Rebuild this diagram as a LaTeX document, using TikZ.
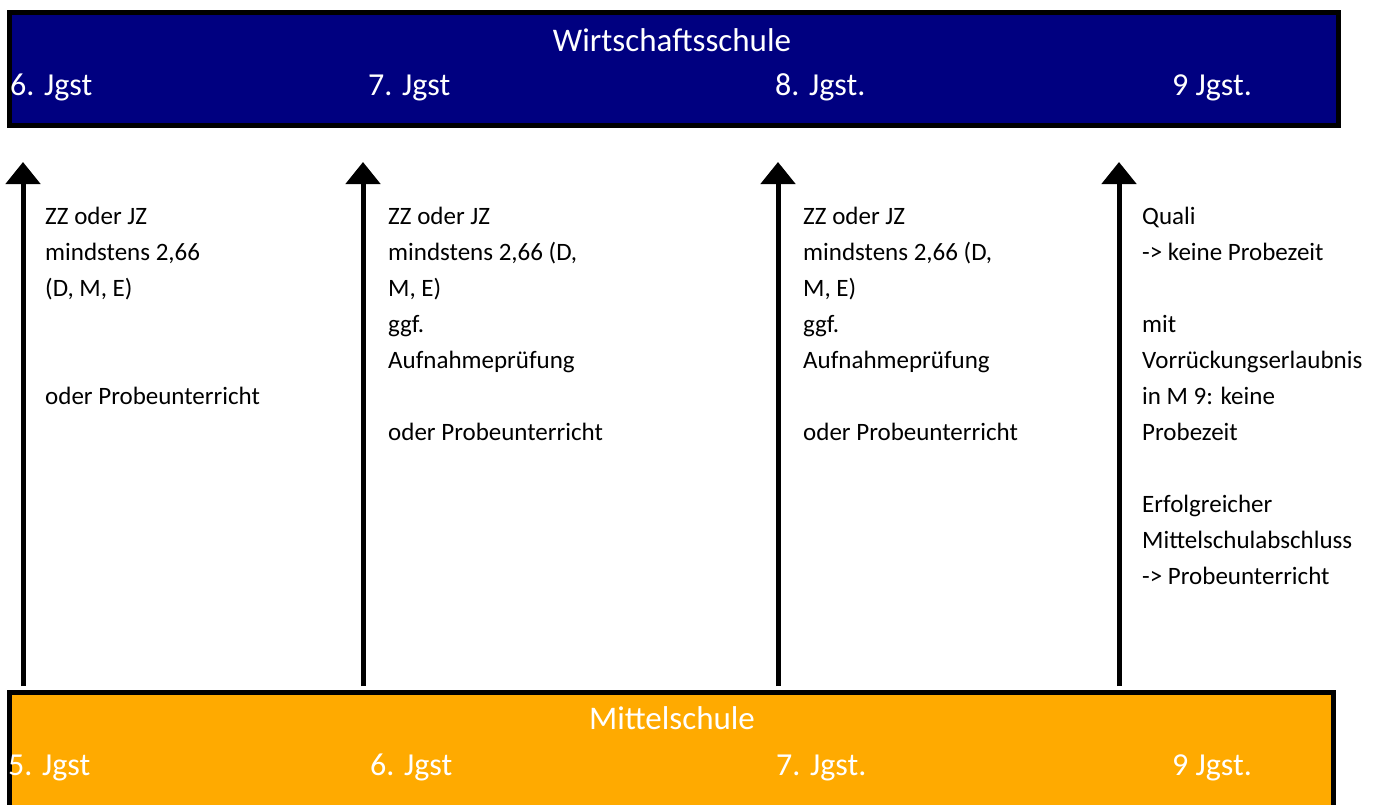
\documentclass[tikz,border=0pt]{standalone}
\usepackage{fontspec}
\setmainfont{Carlito}
\usetikzlibrary{arrows.meta}
\definecolor{wsblue}{HTML}{000080}
\definecolor{msorange}{HTML}{FFAA00}
\begin{document}
\begin{tikzpicture}[x=1pt,y=-1pt,
  band/.style={draw=black,line width=5pt},
  title/.style={text=white,font=\fontsize{33}{38}\selectfont,inner sep=0pt,anchor=base},
  grade/.style={text=white,font=\fontsize{32}{38}\selectfont,inner sep=0pt,anchor=base west},
  req/.style={font=\fontsize{25}{36}\selectfont,inner sep=0pt,anchor=north west,align=left},
  uparrow/.style={line width=5pt,-{Triangle[width=34pt,length=22pt]}}]
\useasboundingbox (0,0) rectangle (1380,804);
\fill[white] (0,0) rectangle (1380,804);
% top band
\draw[band,fill=wsblue] (9.5,12.5) rectangle (1338,125.5);
\node[title] (ws) at (672,51) {Wirtschaftsschule};
\node[grade] (w6) at (10,95) {6. Jgst};
\node[grade] (w7) at (368,95) {7. Jgst};
\node[grade] (w8) at (775,95) {8. Jgst.};
\node[grade] (w9) at (1172,95) {9 Jgst.};
% bottom band
\draw[band,fill=msorange] (9.5,692.5) rectangle (1333,820);
\node[title] (ms) at (672,729) {Mittelschule};
\node[grade] (m5) at (8,775) {5. Jgst};
\node[grade] (m6) at (370,775) {6. Jgst};
\node[grade] (m7) at (776,775) {7. Jgst.};
\node[grade] (m9) at (1172,775) {9 Jgst.};
% arrows
\coordinate (s1) at (23,686); \coordinate (e1) at (23,162);
\coordinate (s2) at (363,686); \coordinate (e2) at (363,162);
\coordinate (s3) at (778,686); \coordinate (e3) at (778,162);
\coordinate (s4) at (1119,686); \coordinate (e4) at (1119,162);
\draw[uparrow] (s1) -- (e1);
\draw[uparrow] (s2) -- (e2);
\draw[uparrow] (s3) -- (e3);
\draw[uparrow] (s4) -- (e4);
% requirements
\node[req] (r1) at (45,207) {ZZ oder JZ\\ mindstens 2,66\\ (D, M, E)\\[72pt] oder Probeunterricht};
\node[req] (r2) at (388,207) {ZZ oder JZ\\ mindstens 2,66 (D,\\ M, E)\\ ggf.\\ Aufnahmeprüfung\\[36pt] oder Probeunterricht};
\node[req] (r3) at (803,207) {ZZ oder JZ\\ mindstens 2,66 (D,\\ M, E)\\ ggf.\\ Aufnahmeprüfung\\[36pt] oder Probeunterricht};
\node[req] (r4) at (1142,207) {Quali\\ -> keine Probezeit\\[36pt] mit\\ Vorrückungserlaubnis\\ in M 9: keine\\ Probezeit\\[36pt] Erfolgreicher\\ Mittelschulabschluss\\ -> Probeunterricht};
\end{tikzpicture}
\end{document}
